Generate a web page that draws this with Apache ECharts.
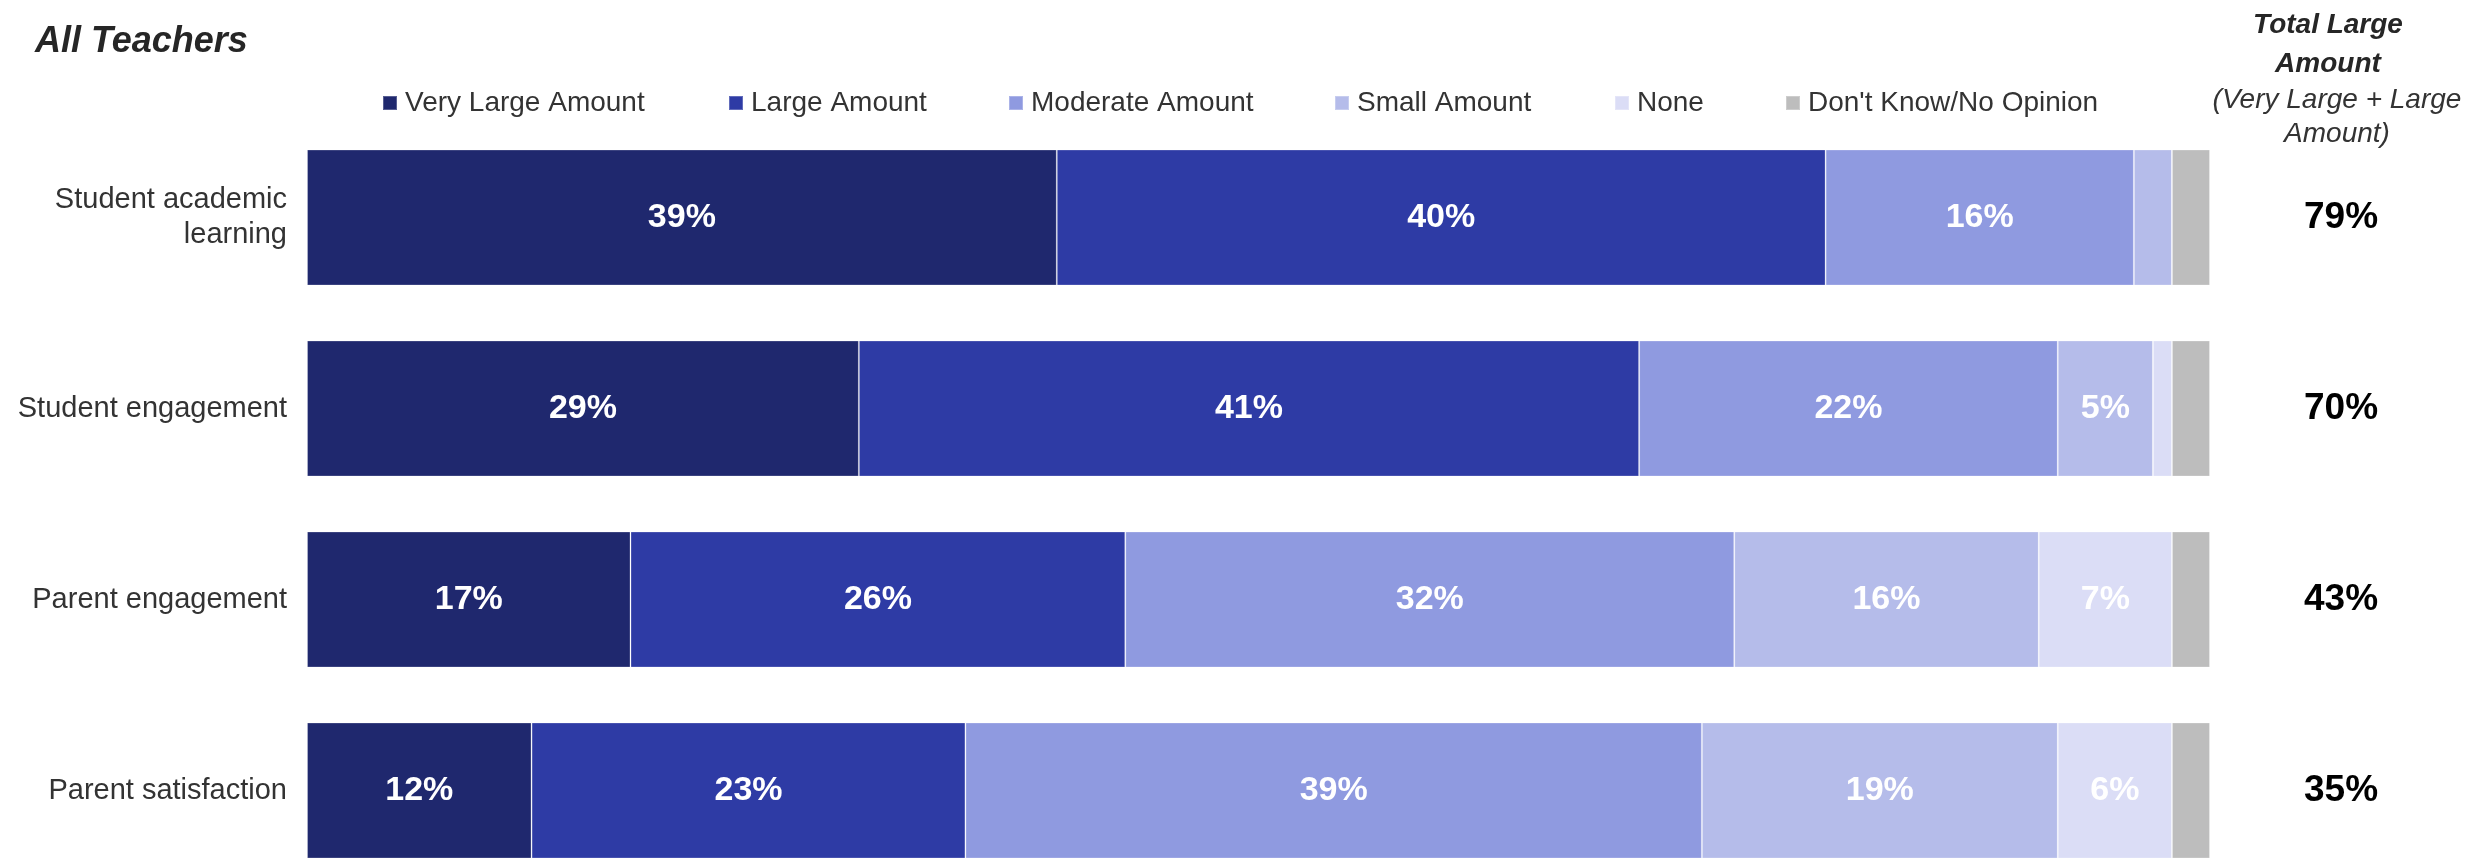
<!DOCTYPE html>
<html>
<head>
<meta charset="utf-8">
<script src="https://cdn.jsdelivr.net/npm/echarts@6/dist/echarts.min.js"></script>
<style>
html,body{margin:0;padding:0;background:#fff;}
#chart{width:2471px;height:858px;}
</style>
</head>
<body>
<div id="chart"></div>
<script>
var categories = ['Student academic\nlearning', 'Student engagement', 'Parent engagement', 'Parent satisfaction'];
var seriesNames = ['Very Large Amount', 'Large Amount', 'Moderate Amount', 'Small Amount', 'None', "Don't Know/No Opinion"];
var veryLarge = [39.4, 29.0, 17.0, 11.8];
var large = [40.4, 41.0, 26.0, 22.8];
var moderate = [16.2, 22.0, 32.0, 38.7];
var small = [2.0, 5.0, 16.0, 18.7];
var none = [0.0, 1.0, 7.0, 6.0];
var dontKnow = [2.0, 2.0, 2.0, 2.0];
var totals = ['79%', '70%', '43%', '35%'];

var colors = ['#1F286E', '#2E3BA5', '#8F9AE0', '#B5BCEA', '#DBDDF6', '#BDBDBD'];
var seriesData = [veryLarge, large, moderate, small, none, dontKnow];
var legendLefts = [382, 728, 1008, 1334, 1614, 1785];
var FONT = '"Liberation Sans", Arial, sans-serif';

var chart = echarts.init(document.getElementById('chart'), null, {renderer: 'canvas'});

var legends = seriesNames.map(function (n, i) {
  return {
    data: [n],
    left: legendLefts[i],
    top: 89,
    padding: 0,
    icon: 'rect',
    itemWidth: 14,
    itemHeight: 14,
    selectedMode: false,
    textStyle: {fontFamily: FONT, fontSize: 28, color: '#333333', padding: [0, 0, 0, 3]}
  };
});

var series = seriesNames.map(function (n, i) {
  return {
    name: n,
    type: 'bar',
    stack: 'all',
    barWidth: 136,
    itemStyle: {color: colors[i], borderColor: 'rgba(255,255,255,0.25)', borderWidth: 1},
    emphasis: {disabled: true},
    label: {
      show: true,
      position: 'inside',
      fontFamily: FONT,
      fontSize: 34,
      fontWeight: 'bold',
      color: '#ffffff',
      formatter: function (p) { return p.value >= 5 ? Math.round(p.value) + '%' : ''; }
    },
    data: seriesData[i]
  };
});

var option = {
  animation: false,
  title: {
    text: 'All Teachers',
    left: 30,
    top: 19,
    textStyle: {fontFamily: FONT, fontSize: 36, fontWeight: 'bold', fontStyle: 'italic', color: '#262626'}
  },
  legend: legends,
  grid: {left: 307, right: 261, top: 122, height: 764, containLabel: false, outerBoundsMode: 'none'},
  xAxis: {type: 'value', min: 0, max: 100, show: false},
  yAxis: [
    {
      type: 'category',
      data: categories,
      inverse: true,
      axisLine: {show: false},
      axisTick: {show: false},
      axisLabel: {fontFamily: FONT, fontSize: 29, color: '#333333', margin: 20, lineHeight: 35, align: 'right'}
    },
    {
      type: 'category',
      data: totals,
      inverse: true,
      position: 'right',
      axisLine: {show: false},
      axisTick: {show: false},
      axisLabel: {fontFamily: FONT, fontSize: 37, fontWeight: 'bold', color: '#000000', margin: 131, align: 'center'}
    }
  ],
  graphic: [
    {type: 'text', x: 2328, y: 25, style: {text: 'Total Large', font: 'italic bold 28px ' + FONT, fill: '#262626', align: 'center', verticalAlign: 'middle'}},
    {type: 'text', x: 2328, y: 64, style: {text: 'Amount', font: 'italic bold 28px ' + FONT, fill: '#262626', align: 'center', verticalAlign: 'middle'}},
    {type: 'text', x: 2337, y: 100, style: {text: '(Very Large + Large', font: 'italic 28px ' + FONT, fill: '#333333', align: 'center', verticalAlign: 'middle'}},
    {type: 'text', x: 2337, y: 134, style: {text: 'Amount)', font: 'italic 28px ' + FONT, fill: '#333333', align: 'center', verticalAlign: 'middle'}}
  ],
  series: series
};
chart.setOption(option);
</script>
</body>
</html>
